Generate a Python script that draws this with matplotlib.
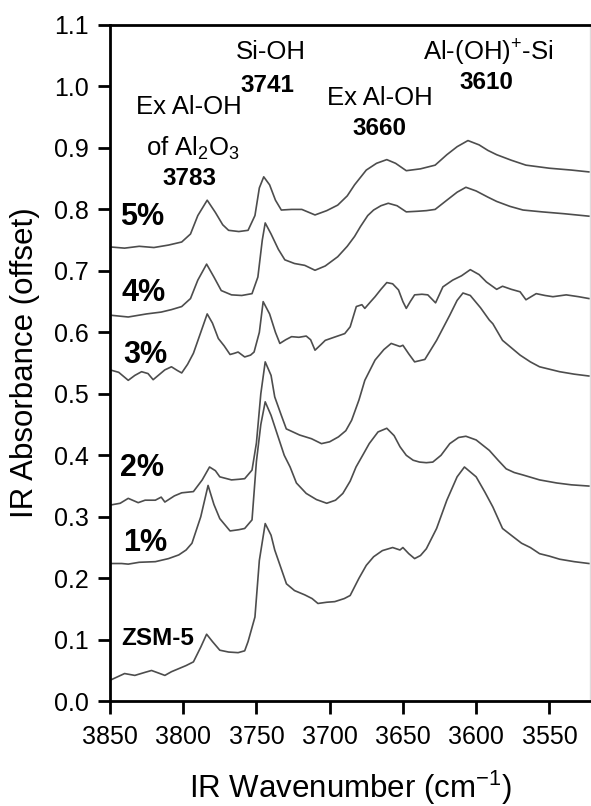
import matplotlib
matplotlib.use("Agg")
import matplotlib.pyplot as plt

plt.rcParams['font.family'] = ['Liberation Sans', 'DejaVu Sans']
plt.rcParams['mathtext.default'] = 'regular'

# spectra (wavenumber, absorbance with offset)
w_zsm = [3850, 3840, 3833, 3826, 3821.6, 3817, 3812.5, 3808, 3803, 3798, 3793, 3788, 3784, 3780, 3775,
         3769, 3762.5, 3758, 3755.7, 3751, 3748, 3744, 3740, 3737.5, 3729.5, 3724, 3717, 3712, 3708, 3702,
         3696.5, 3690, 3686, 3680, 3675, 3670, 3664, 3657, 3652, 3650, 3646, 3642, 3638, 3634, 3627,
         3620, 3613, 3608, 3600, 3594, 3588.6, 3582, 3575, 3569, 3563, 3556.7, 3550, 3543, 3533, 3523]
a_zsm = [0.034, 0.045, 0.042, 0.047, 0.050, 0.046, 0.042, 0.048, 0.053, 0.058, 0.064, 0.088, 0.109, 0.097, 0.083,
         0.080, 0.079, 0.082, 0.097, 0.137, 0.229, 0.289, 0.270, 0.246, 0.191, 0.180, 0.173, 0.167, 0.159, 0.161,
         0.162, 0.167, 0.172, 0.200, 0.221, 0.235, 0.245, 0.250, 0.246, 0.250, 0.240, 0.232, 0.237, 0.248, 0.281,
         0.327, 0.365, 0.381, 0.365, 0.340, 0.316, 0.281, 0.268, 0.257, 0.250, 0.240, 0.236, 0.231, 0.227, 0.224]

w_1 = [3850, 3842, 3837.5, 3830, 3819, 3810, 3803, 3798, 3794, 3788, 3783, 3779, 3775, 3768, 3762, 3758,
       3753, 3750, 3747, 3744, 3740, 3736, 3731, 3727, 3722.7, 3716, 3709, 3702, 3696, 3691, 3686, 3682,
       3677, 3673, 3667, 3661, 3656, 3652, 3647.7, 3643, 3638.6, 3634, 3629.6, 3624, 3618, 3612, 3607,
       3600, 3591, 3585, 3579.5, 3574, 3568, 3556.7, 3545, 3535, 3523]
a_1 = [0.224, 0.224, 0.223, 0.226, 0.227, 0.232, 0.238, 0.246, 0.257, 0.300, 0.351, 0.320, 0.297, 0.277, 0.279, 0.281,
       0.295, 0.390, 0.450, 0.487, 0.465, 0.436, 0.400, 0.381, 0.355, 0.338, 0.328, 0.322, 0.327, 0.338, 0.358, 0.381,
       0.402, 0.419, 0.438, 0.444, 0.432, 0.414, 0.400, 0.392, 0.389, 0.388, 0.389, 0.400, 0.419, 0.429, 0.431,
       0.425, 0.408, 0.392, 0.378, 0.372, 0.368, 0.360, 0.355, 0.352, 0.350]

w_2 = [3850, 3843, 3837.5, 3830.7, 3826, 3819, 3815, 3812.5, 3806, 3801, 3793, 3787, 3782, 3778, 3775, 3767,
       3762, 3758, 3753, 3750, 3747, 3744, 3740, 3737.5, 3733, 3729.6, 3720.5, 3712.4, 3705.6, 3700, 3694,
       3689, 3685, 3680, 3676, 3669, 3663, 3658, 3652, 3650, 3646, 3642, 3635, 3627, 3618, 3613, 3609,
       3604, 3597, 3591, 3588.6, 3582, 3576, 3570, 3563, 3556.7, 3543, 3533, 3523]
a_2 = [0.319, 0.322, 0.330, 0.323, 0.327, 0.327, 0.332, 0.324, 0.334, 0.339, 0.341, 0.360, 0.381, 0.375, 0.365, 0.360,
       0.361, 0.362, 0.376, 0.420, 0.500, 0.552, 0.530, 0.495, 0.465, 0.443, 0.433, 0.427, 0.419, 0.422, 0.430,
       0.440, 0.457, 0.490, 0.522, 0.555, 0.572, 0.582, 0.577, 0.579, 0.565, 0.552, 0.556, 0.587, 0.628, 0.652, 0.664,
       0.660, 0.640, 0.620, 0.614, 0.587, 0.575, 0.563, 0.552, 0.544, 0.536, 0.532, 0.529]

w_3 = [3850, 3844, 3837.5, 3833, 3828.4, 3824, 3820.5, 3816, 3812.5, 3808, 3804, 3801, 3797, 3793, 3788,
       3783.6, 3780, 3776, 3772, 3768, 3765, 3762.5, 3758, 3754, 3751.6, 3748, 3745.4, 3741, 3737, 3734,
       3730, 3726, 3721, 3716, 3713, 3710, 3706, 3703, 3697, 3689.7, 3686, 3681.8, 3678, 3676, 3672, 3669,
       3665, 3661, 3657, 3653, 3650, 3647.7, 3645, 3642, 3637, 3633, 3627.7, 3622.7, 3616, 3610, 3604,
       3598, 3593, 3586, 3582, 3576, 3570, 3566, 3559, 3553, 3547.6, 3538.5, 3530, 3523]
a_3 = [0.539, 0.535, 0.522, 0.530, 0.536, 0.533, 0.523, 0.532, 0.539, 0.544, 0.538, 0.534, 0.548, 0.566, 0.600,
       0.630, 0.615, 0.590, 0.578, 0.564, 0.566, 0.568, 0.560, 0.563, 0.568, 0.600, 0.650, 0.630, 0.600, 0.582,
       0.588, 0.593, 0.592, 0.594, 0.588, 0.571, 0.580, 0.587, 0.592, 0.598, 0.609, 0.642, 0.645, 0.639, 0.650, 0.658,
       0.670, 0.681, 0.679, 0.669, 0.650, 0.639, 0.650, 0.661, 0.662, 0.661, 0.648, 0.674, 0.685, 0.692, 0.702,
       0.694, 0.682, 0.670, 0.675, 0.670, 0.666, 0.653, 0.663, 0.660, 0.658, 0.661, 0.658, 0.655]

w_4 = [3850, 3837.5, 3825, 3815, 3808, 3801, 3795, 3790, 3784, 3779, 3774, 3767, 3760, 3753, 3749, 3746,
       3744, 3740, 3735, 3730.6, 3724, 3717, 3710, 3703, 3694.5, 3688, 3683, 3679, 3674, 3670, 3665, 3660,
       3654, 3647.7, 3640, 3634, 3628, 3620, 3613, 3607, 3600, 3592, 3586, 3577, 3568, 3555, 3540, 3523]
a_4 = [0.628, 0.625, 0.630, 0.633, 0.637, 0.642, 0.655, 0.685, 0.711, 0.690, 0.668, 0.661, 0.660, 0.663, 0.690, 0.750,
       0.778, 0.760, 0.735, 0.718, 0.712, 0.709, 0.701, 0.708, 0.723, 0.740, 0.756, 0.772, 0.790, 0.799, 0.806, 0.810,
       0.806, 0.796, 0.797, 0.798, 0.800, 0.815, 0.828, 0.836, 0.830, 0.820, 0.813, 0.805, 0.799, 0.796, 0.793, 0.789]

w_5 = [3850, 3840, 3830, 3820, 3810, 3801, 3795, 3790, 3783.6, 3778, 3773, 3769, 3762, 3755.7, 3751, 3748,
       3745, 3741, 3737, 3733, 3726, 3719, 3710, 3702, 3694.5, 3688, 3683, 3679, 3675, 3668, 3661, 3655,
       3647.7, 3638, 3628, 3620, 3613, 3605.6, 3598, 3592, 3586, 3576, 3566, 3550, 3535, 3523]
a_5 = [0.739, 0.737, 0.740, 0.738, 0.742, 0.747, 0.760, 0.790, 0.815, 0.795, 0.775, 0.766, 0.764, 0.766, 0.790, 0.835,
       0.853, 0.840, 0.815, 0.799, 0.800, 0.800, 0.791, 0.798, 0.807, 0.822, 0.840, 0.852, 0.864, 0.875, 0.881, 0.875,
       0.863, 0.866, 0.872, 0.889, 0.902, 0.912, 0.905, 0.896, 0.889, 0.880, 0.872, 0.867, 0.864, 0.861]

spectra = [(w_zsm, a_zsm), (w_1, a_1), (w_2, a_2), (w_3, a_3), (w_4, a_4), (w_5, a_5)]

sample_labels = ['ZSM-5', '1%', '2%', '3%', '4%', '5%']
sample_label_pos = [(3842, 0.1025), (3841, 0.257), (3843, 0.379), (3841, 0.563), (3842, 0.664), (3843, 0.788)]

peak_names = ['Si-OH', 'Ex Al-OH', 'of Al$_2$O$_3$', 'Ex Al-OH', 'Al-(OH)$^{+}$-Si']
peak_name_pos = [(3740, 1.056), (3796, 0.967), (3793.5, 0.900), (3666, 0.981), (3592, 1.055)]
peak_nums = ['3741', '3783', '3660', '3610']
peak_num_pos = [(3742.5, 1.002), (3796, 0.851), (3666, 0.932), (3593, 1.006)]

fig = plt.figure(figsize=(5.91, 8.06), dpi=100)
ax = fig.add_axes([0.186, 0.130, 0.813, 0.839])

for w, a in spectra:
    ax.plot(w, a, color='#4d4d4d', lw=1.2)

for lab, (x, y) in zip(sample_labels, sample_label_pos):
    fs = 17.5 if lab == 'ZSM-5' else 22
    ax.text(x, y, lab, fontsize=fs, fontweight='bold', ha='left', va='center')

for lab, (x, y) in zip(peak_names, peak_name_pos):
    ax.text(x, y, lab, fontsize=18.5, ha='center', va='center')
for lab, (x, y) in zip(peak_nums, peak_num_pos):
    ax.text(x, y, lab, fontsize=17.5, fontweight='bold', ha='center', va='center')

ax.set_xlim(3850, 3522)
ax.set_ylim(0, 1.1)
ax.set_xticks([3850, 3800, 3750, 3700, 3650, 3600, 3550])
ax.set_yticks([i / 10 for i in range(12)])
ax.set_yticklabels(['%.1f' % (i / 10) for i in range(12)])
ax.tick_params(direction='out', length=9, width=2, labelsize=18)
ax.tick_params(axis='x', pad=8)
ax.tick_params(axis='y', pad=6)
ax.tick_params(top=False, right=False)

for s in ['left', 'bottom', 'top']:
    ax.spines[s].set_linewidth(2)
ax.spines['right'].set_color('#dddddd')
ax.spines['right'].set_linewidth(1)

ax.set_xlabel('IR Wavenumber (cm$^{-1}$)', fontsize=22.5, labelpad=14)
ax.set_ylabel('IR Absorbance (offset)', fontsize=22.5, labelpad=10)

fig.savefig('out.png', dpi=100)
